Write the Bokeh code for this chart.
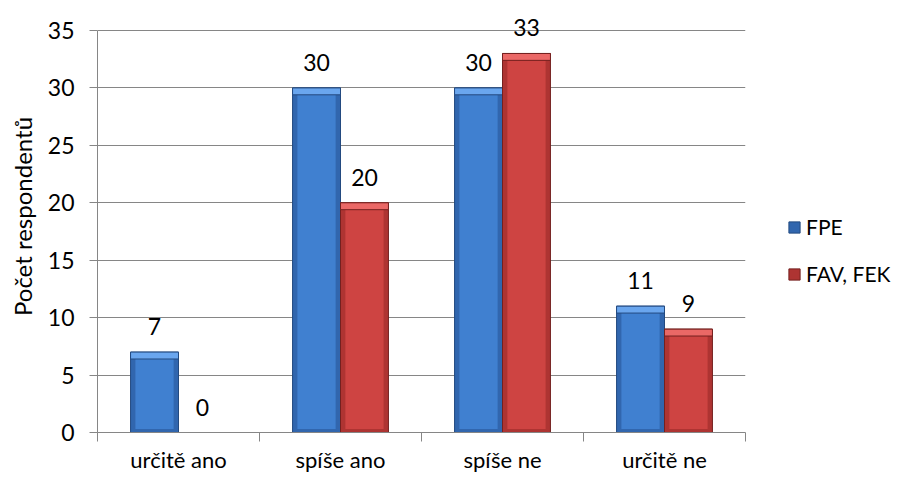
import numpy as np
from bokeh.plotting import figure
from bokeh.models import (ColumnDataSource, FixedTicker, Legend, LegendItem, LabelSet, Range1d)
from bokeh.core.properties import value
from bokeh.embed import file_html
from bokeh.resources import INLINE

categories = ["určitě ano", "spíše ano", "spíše ne", "určitě ne"]
series_names = ["FPE", "FAV, FEK"]
fpe = [7, 30, 30, 11]
fav_fek = [0, 20, 33, 9]
y_ticks = [0, 5, 10, 15, 20, 25, 30, 35]

FONT = "Lato"
FS = "23px"

y_max = 35
px_per_unit = 402 / y_max
head_px = 30
y_top = y_max + head_px / px_per_unit

p = figure(frame_width=648, frame_height=402 + head_px, output_backend="svg", toolbar_location=None,
           x_range=Range1d(0, len(categories)), y_range=Range1d(0, y_top),
           min_border_left=97, min_border_right=144, min_border_top=0, min_border_bottom=20)
p.outline_line_color = None
p.background_fill_color = "white"
p.border_fill_color = "white"

# styles per series: (side, main, top, edge)
styles = [
    ("#3166AE", "#4080D0", "#6AA6EE", "#234A80"),
    ("#AE3432", "#CE4442", "#EA6866", "#74201F"),
]
offsets = [-0.148, 0.148]
bw = 0.296
inset_x = 0.03

legend_items = []
for si, (vals, name) in enumerate(zip([fpe, fav_fek], series_names)):
    side, main, top_c, edge = styles[si]
    vals_a = np.array(vals, dtype=float)
    xs = np.arange(len(categories)) + 0.5 + offsets[si]
    bev = np.minimum(0.6, vals_a)
    src = ColumnDataSource(dict(
        x=xs, top=vals_a, left=xs - bw / 2, right=xs + bw / 2,
        ileft=xs - bw / 2 + inset_x, iright=xs + bw / 2 - inset_x,
        btm=vals_a - bev, ibottom=np.minimum(0.3, vals_a),
        label=[str(v) for v in vals],
    ))
    outer = p.vbar(x="x", top="top", width=bw, bottom=0, source=src,
                   fill_color=side, line_color=edge, line_width=1)
    p.quad(left="ileft", right="iright", bottom="ibottom", top="btm", source=src,
           fill_color=main, line_color=None)
    p.quad(left="left", right="right", bottom="btm", top="top", source=src,
           fill_color=top_c, line_color=edge, line_width=1)
    labels = LabelSet(x="x", y="top", text="label", source=src,
                      text_align="center", text_baseline="bottom", y_offset=17,
                      text_font=value(FONT), text_font_size=FS, text_color="#000000")
    p.add_layout(labels)
    legend_items.append(LegendItem(label=name, renderers=[outer]))

# axes
p.xaxis.ticker = FixedTicker(ticks=[i + 0.5 for i in range(len(categories))],
                             minor_ticks=list(range(len(categories) + 1)))
p.xaxis.major_label_overrides = {i + 0.5: c for i, c in enumerate(categories)}
p.xaxis.major_tick_out = 0
p.xaxis.major_tick_in = 0
p.xaxis.minor_tick_out = 9
p.xaxis.minor_tick_in = 0
p.xaxis.minor_tick_line_color = "#868686"
p.xaxis.axis_line_color = "#868686"
p.xaxis.major_label_text_font = FONT
p.xaxis.major_label_text_font_size = "22px"
p.xaxis.major_label_text_color = "#000000"
p.xaxis.major_label_standoff = 4

p.yaxis.ticker = FixedTicker(ticks=y_ticks, minor_ticks=[])
p.yaxis.bounds = (0, y_max)
p.yaxis.major_tick_out = 8
p.yaxis.major_tick_in = 0
p.yaxis.major_tick_line_color = "#868686"
p.yaxis.axis_line_color = "#868686"
p.yaxis.major_label_text_font = FONT
p.yaxis.major_label_text_font_size = FS
p.yaxis.major_label_text_color = "#000000"
p.yaxis.major_label_standoff = 15
p.yaxis.axis_label = "Počet respondentů"
p.yaxis.axis_label_text_font = FONT
p.yaxis.axis_label_text_font_size = "24px"
p.yaxis.axis_label_text_font_style = "normal"
p.yaxis.axis_label_text_color = "#000000"
p.yaxis.axis_label_standoff = 8

p.xgrid.grid_line_color = None
p.ygrid.grid_line_color = "#868686"
p.ygrid.grid_line_width = 1

legend = Legend(items=legend_items, location=(42, 146), orientation="vertical",
                label_text_font=FONT, label_text_font_size="21px", label_text_color="#000000",
                glyph_width=14, glyph_height=14, spacing=22, padding=0, margin=0,
                border_line_color=None, background_fill_alpha=0, label_standoff=5)
p.add_layout(legend, "right")

open("out.html", "w").write(file_html(p, INLINE))
